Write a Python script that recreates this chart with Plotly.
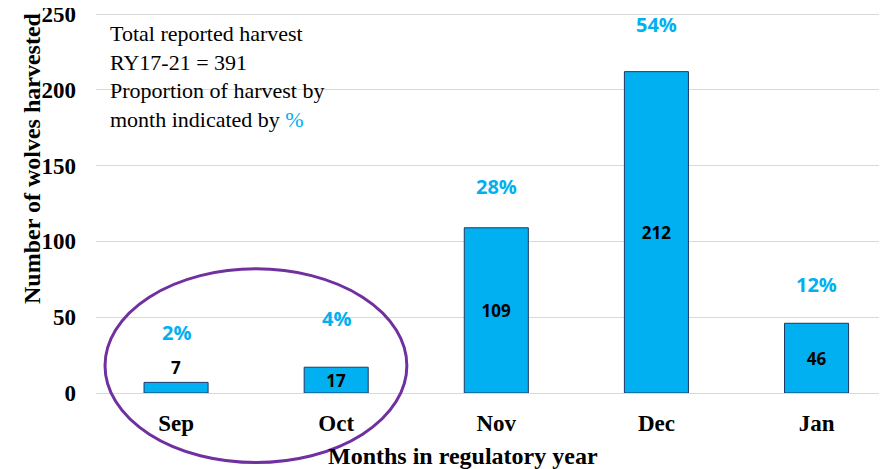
import plotly.graph_objects as go

months = ["Sep", "Oct", "Nov", "Dec", "Jan"]
harvest = [7, 17, 109, 212, 46]
share_labels = ["2%", "4%", "28%", "54%", "12%"]
y_ticks = [0, 50, 100, 150, 200, 250]

BLUE = "#00B0F0"
SERIF = "Liberation Serif, Times New Roman, serif"
SANS = "Open Sans, Lato, sans-serif"

text_pos = ["outside" if v < 10 else "inside" for v in harvest]
pct_shift = [50, 49, 41, 47, 39]

fig = go.Figure()
fig.add_trace(go.Bar(
    x=months, y=harvest, width=0.4,
    marker=dict(color=BLUE, line=dict(color="#1F3864", width=1)),
    text=[str(v) for v in harvest], textposition=text_pos, textangle=0,
    insidetextanchor="middle", constraintext="none", cliponaxis=False,
    textfont=dict(family=SANS, size=17, color="black", weight="bold"),
    hoverinfo="skip",
))

for m, v, p, s in zip(months, harvest, share_labels, pct_shift):
    fig.add_annotation(x=m, y=v, text=p, showarrow=False, yshift=s,
                       font=dict(family=SANS, size=20, color=BLUE, weight="bold"))

fig.add_annotation(
    xref="paper", yref="paper", x=0.015, y=0.978, xanchor="left", yanchor="top",
    align="left", showarrow=False,
    text=("Total reported harvest<br>RY17-21 = 391<br>Proportion of harvest by<br>"
          "month indicated by <span style='color:%s'>%%</span>" % BLUE),
    font=dict(family=SERIF, size=22, color="black"),
)

fig.add_annotation(
    xref="paper", yref="paper", x=-0.1, y=0.615, textangle=-90,
    text="<b>Number of wolves harvested</b>", showarrow=False,
    font=dict(family=SERIF, size=24, color="black"),
)

fig.add_annotation(
    xref="paper", yref="paper", x=0.464, y=-0.166, yanchor="middle",
    text="<b>Months in regulatory year</b>", showarrow=False,
    font=dict(family=SERIF, size=24, color="black"),
)

fig.add_shape(type="circle", xref="paper", yref="paper",
              x0=0.0114, x1=0.393, y0=-0.182, y1=0.325,
              line=dict(color="#7030A0", width=3), layer="above")

# page body has an 8px default margin: offset the figure accordingly
fig.update_layout(
    width=879, height=461,
    margin=dict(l=88, r=0, t=3, b=76, autoexpand=False),
    paper_bgcolor="white", plot_bgcolor="white",
    showlegend=False,
    xaxis=dict(range=[-0.5, 4.44], showgrid=False, zeroline=False, showline=False,
               automargin=False,
               ticks="", ticklabelstandoff=14, ticklabeloverflow="allow",
               tickfont=dict(family=SERIF, size=23, color="black", weight="bold")),
    yaxis=dict(range=[0, 252], tickvals=y_ticks, showgrid=True, gridcolor="#D9D9D9",
               automargin=False,
               gridwidth=1, zeroline=True, zerolinecolor="#D9D9D9", zerolinewidth=1,
               showline=False, ticks="", ticklabelstandoff=19, ticklabeloverflow="allow",
               tickfont=dict(family=SERIF, size=23, color="black", weight="bold")),
)

fig.write_html("out.html")
